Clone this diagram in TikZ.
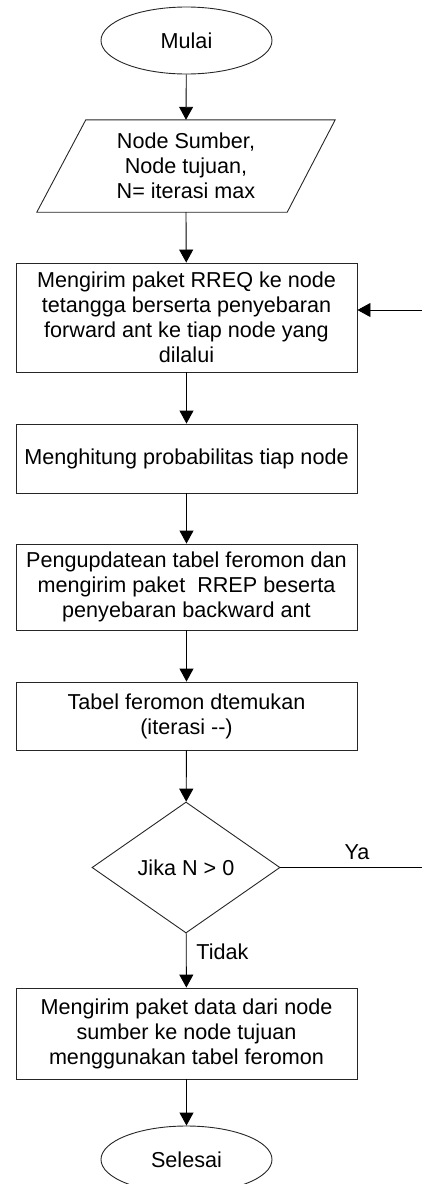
\documentclass[tikz,border=0pt]{standalone}
\usepackage{fontspec}
\setmainfont{Liberation Sans}
\usetikzlibrary{shapes.geometric,arrows.meta,calc}
\begin{document}
\begin{tikzpicture}[x=1pt,y=-1pt,
  every node/.style={font=\fontsize{21.6}{25}\selectfont, text=black},
  proc/.style={draw=black!85, line width=0.9pt, minimum width=341pt, inner sep=0pt, align=center},
  term/.style={draw=black!85, line width=0.9pt, ellipse, minimum width=171pt, minimum height=67pt, inner sep=0pt},
  decide/.style={draw=black!85, line width=0.9pt, diamond, aspect=1.435, minimum width=188pt, minimum height=131pt, inner sep=0pt},
  flow/.style={line width=0.9pt, -{Triangle[length=13pt,width=14pt]}},
  plain/.style={line width=0.9pt},
  lbl/.style={inner sep=0pt}
]
\useasboundingbox (0,0) rectangle (422,1184);
\node[term] (start) at (186.5,40.5) {Mulai};
\node[minimum width=250pt, minimum height=92pt, inner sep=0pt, align=center] (inp) at (186,166) {Node Sumber,\\Node tujuan,\\N= iterasi max};
\draw[draw=black!85, line width=0.9pt] ($(inp.north west)+(25,0)$) -- ($(inp.north east)+(24,0)$) -- ($(inp.south east)+(-24,0)$) -- ($(inp.south west)+(-24,0)$) -- cycle;
\node[proc, minimum height=109pt] (b1) at (186.5,317.5) {Mengirim paket RREQ ke node\\tetangga berserta penyebaran\\forward ant ke tiap node yang\\dilalui};
\node[proc, minimum height=69pt] (b2) at (186.5,458.5) {Menghitung probabilitas tiap node};
\node[proc, minimum height=86pt] (b3) at (186.5,587) {Pengupdatean tabel feromon dan\\mengirim paket\ \ RREP beserta\\penyebaran backward ant};
\node[proc, minimum height=68pt] (b4) at (186.5,716) {Tabel feromon dtemukan\\(iterasi -{}-)};
\node[decide] (d) at (186,867.5) {Jika N > 0};
\node[proc, minimum height=91pt] (b5) at (186.5,1033.5) {Mengirim paket data dari node\\sumber ke node tujuan\\menggunakan tabel feromon};
\node[term] (stop) at (186.5,1159.5) {Selesai};
\coordinate (r1) at (425,867.5);
\coordinate (r2) at (425,310);
\draw[flow] (start) -- (inp.north);
\draw[flow] (inp.south) -- (b1);
\draw[flow] (b1) -- (b2);
\draw[flow] (b2) -- (b3);
\draw[flow] (b3) -- (b4);
\draw[flow] (b4) -- (d);
\draw[flow] (d) -- (b5);
\draw[flow] (b5) -- (stop);
\draw[plain] (d.east) -- (r1) -- (r2);
\draw[flow] (r2) -- (r2 -| b1.east);
\node[lbl] (ya) at (357,852) {Ya};
\node[lbl] (tidak) at (222.5,952) {Tidak};
\end{tikzpicture}
\end{document}
